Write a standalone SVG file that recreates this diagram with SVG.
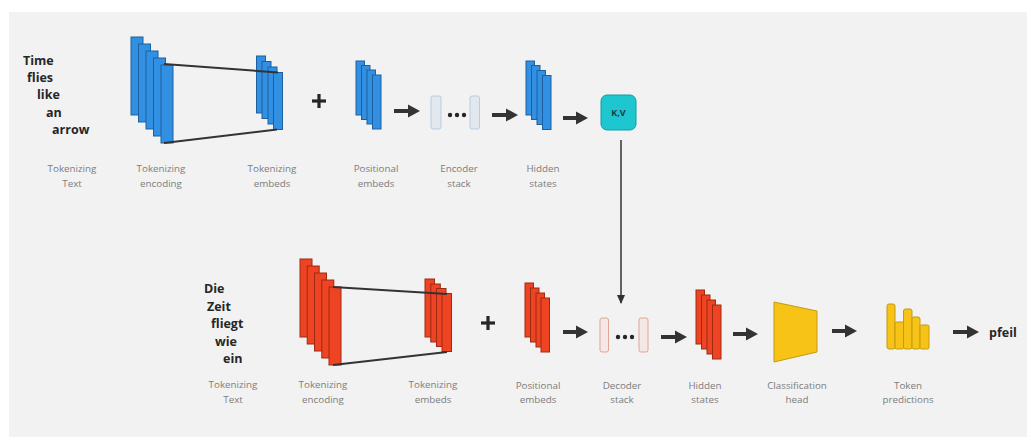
<svg xmlns="http://www.w3.org/2000/svg" width="1027" height="437" viewBox="0 0 1027 437">
  <defs>
    <style>
      .word { font-family: "Open Sans", "DejaVu Sans", sans-serif; font-weight: 700; font-size: 12.5px; fill: #262626; }
      .lbl { font-family: "Open Sans", "DejaVu Sans", sans-serif; font-size: 9.8px; fill: #7c7c7c; text-anchor: middle; }
      .blue { fill: #3290e3; stroke: #1f5f9e; stroke-width: 1; }
      .red { fill: #ef4423; stroke: #9e2a12; stroke-width: 1; }
      .enc { fill: #e3e8ee; stroke: #b9cde0; stroke-width: 1; }
      .dec { fill: #f4e8e6; stroke: #e0a595; stroke-width: 1; }
      .gold { fill: #f6c316; stroke: #c49a12; stroke-width: 1; }
      .dot { fill: #262626; }
      .flow { stroke: #333; stroke-width: 4; fill: none; marker-end: url(#head); }
      .funnel { stroke: #333; stroke-width: 2; fill: none; }
      .thin { stroke: #333; stroke-width: 1.5; fill: none; marker-end: url(#small); }
      .plus { stroke: #262626; stroke-width: 3.2; }
    </style>
    <marker id="head" markerUnits="userSpaceOnUse" markerWidth="13" markerHeight="14" refX="4" refY="7" orient="auto">
      <path d="M0,0.5 L12,7 L0,13.5 z" fill="#333"/>
    </marker>
    <marker id="small" markerUnits="userSpaceOnUse" markerWidth="10" markerHeight="10" refX="8" refY="5" orient="auto">
      <path d="M0,1 L9,5 L0,9 z" fill="#333"/>
    </marker>
  </defs>

  <!-- backdrop -->
  <rect x="0" y="0" width="1027" height="437" fill="#ffffff"/>
  <rect x="9" y="12" width="1018" height="425" fill="#f2f2f2"/>

  <!-- ===== encoder row ===== -->
  <g id="src-text">
    <text class="word" x="23" y="65">Time</text>
    <text class="word" x="27" y="82">flies</text>
    <text class="word" x="37" y="99">like</text>
    <text class="word" x="46" y="117">an</text>
    <text class="word" x="52" y="134">arrow</text>
    <text class="lbl" x="72" y="172">Tokenizing</text>
    <text class="lbl" x="72" y="187">Text</text>
  </g>

  <g id="src-encoding">
    <rect class="blue" x="131" y="37" width="12" height="78"/>
    <rect class="blue" x="138.5" y="44" width="12" height="78"/>
    <rect class="blue" x="146" y="51" width="12" height="78"/>
    <rect class="blue" x="153.5" y="58" width="12" height="78"/>
    <rect class="blue" x="161" y="65" width="12" height="78"/>
    <text class="lbl" x="161" y="172">Tokenizing</text>
    <text class="lbl" x="161" y="187">encoding</text>
  </g>

  <g id="src-embeds">
    <rect class="blue" x="256.5" y="56" width="9" height="57"/>
    <rect class="blue" x="262" y="61.5" width="9" height="57"/>
    <rect class="blue" x="268" y="67" width="9" height="57"/>
    <rect class="blue" x="273.5" y="72.5" width="9" height="57"/>
    <text class="lbl" x="272" y="172">Tokenizing</text>
    <text class="lbl" x="272" y="187">embeds</text>
  </g>

  <g id="src-plus">
    <line class="plus" x1="312" y1="101" x2="326" y2="101"/>
    <line class="plus" x1="319" y1="94" x2="319" y2="108"/>
  </g>

  <g id="src-positional">
    <rect class="blue" x="356" y="61" width="8.5" height="54"/>
    <rect class="blue" x="361.5" y="65.5" width="8.5" height="54"/>
    <rect class="blue" x="367" y="70" width="8.5" height="54"/>
    <rect class="blue" x="372.5" y="75" width="8.5" height="54"/>
    <text class="lbl" x="376" y="172">Positional</text>
    <text class="lbl" x="376" y="187">embeds</text>
  </g>

  <g id="encoder-stack">
    <rect class="enc" x="431" y="96" width="10" height="33" rx="2"/>
    <rect class="enc" x="470" y="96" width="9.5" height="33" rx="2"/>
    <circle class="dot" cx="450" cy="115" r="2.2"/>
    <circle class="dot" cx="457" cy="115" r="2.2"/>
    <circle class="dot" cx="464" cy="115" r="2.2"/>
    <text class="lbl" x="459" y="172">Encoder</text>
    <text class="lbl" x="459" y="187">stack</text>
  </g>

  <g id="enc-hidden">
    <rect class="blue" x="526" y="61" width="8.5" height="54"/>
    <rect class="blue" x="531.5" y="65.5" width="8.5" height="54"/>
    <rect class="blue" x="537" y="70.5" width="8.5" height="54"/>
    <rect class="blue" x="542.5" y="75.5" width="8.5" height="54"/>
    <text class="lbl" x="543" y="172">Hidden</text>
    <text class="lbl" x="543" y="187">states</text>
  </g>

  <g id="kv">
    <rect x="601" y="95" width="35" height="35" rx="6" fill="#1ec6cf" stroke="#159aa2" stroke-width="1"/>
    <text x="618.5" y="116" text-anchor="middle" font-family="'Open Sans', 'DejaVu Sans', sans-serif" font-weight="700" font-size="9" fill="#1d3b46">K,V</text>
  </g>

  <!-- ===== decoder row ===== -->
  <g id="tgt-text">
    <text class="word" x="204" y="293">Die</text>
    <text class="word" x="207" y="311">Zeit</text>
    <text class="word" x="211" y="328">fliegt</text>
    <text class="word" x="215" y="346">wie</text>
    <text class="word" x="223" y="363">ein</text>
    <text class="lbl" x="233" y="388">Tokenizing</text>
    <text class="lbl" x="233" y="403">Text</text>
  </g>

  <g id="tgt-encoding">
    <rect class="red" x="300" y="259" width="12" height="78"/>
    <rect class="red" x="307.2" y="266" width="12" height="78"/>
    <rect class="red" x="314.5" y="273" width="12" height="78"/>
    <rect class="red" x="321.8" y="280" width="12" height="78"/>
    <rect class="red" x="329" y="287" width="12" height="78"/>
    <text class="lbl" x="323" y="388">Tokenizing</text>
    <text class="lbl" x="323" y="403">encoding</text>
  </g>

  <g id="tgt-embeds">
    <rect class="red" x="425" y="279" width="9.5" height="58"/>
    <rect class="red" x="430.8" y="284" width="9.5" height="58"/>
    <rect class="red" x="436.5" y="288.5" width="9.5" height="58"/>
    <rect class="red" x="442" y="293.5" width="9.5" height="58"/>
    <text class="lbl" x="433" y="388">Tokenizing</text>
    <text class="lbl" x="433" y="403">embeds</text>
  </g>

  <g id="tgt-plus">
    <line class="plus" x1="481" y1="323" x2="495" y2="323"/>
    <line class="plus" x1="488" y1="316" x2="488" y2="330"/>
  </g>

  <g id="tgt-positional">
    <rect class="red" x="525" y="283" width="8.5" height="54"/>
    <rect class="red" x="530.5" y="288" width="8.5" height="54"/>
    <rect class="red" x="536" y="293" width="8.5" height="54"/>
    <rect class="red" x="541" y="298" width="8.5" height="54"/>
    <text class="lbl" x="538" y="389">Positional</text>
    <text class="lbl" x="538" y="403">embeds</text>
  </g>

  <g id="decoder-stack">
    <rect class="dec" x="600" y="318" width="8.5" height="34" rx="2"/>
    <rect class="dec" x="639" y="318" width="9" height="34" rx="2"/>
    <circle class="dot" cx="618" cy="337" r="2.2"/>
    <circle class="dot" cx="625" cy="337" r="2.2"/>
    <circle class="dot" cx="632" cy="337" r="2.2"/>
    <text class="lbl" x="622" y="389">Decoder</text>
    <text class="lbl" x="622" y="403">stack</text>
  </g>

  <g id="dec-hidden">
    <rect class="red" x="696" y="290" width="8.5" height="54"/>
    <rect class="red" x="701.5" y="295" width="8.5" height="54"/>
    <rect class="red" x="707" y="300" width="8.5" height="54"/>
    <rect class="red" x="712.5" y="305" width="8.5" height="54"/>
    <text class="lbl" x="705" y="389">Hidden</text>
    <text class="lbl" x="705" y="403">states</text>
  </g>

  <g id="cls-head">
    <polygon class="gold" points="774,302 817,311 817,352 774,362"/>
    <text class="lbl" x="797" y="389">Classification</text>
    <text class="lbl" x="797" y="403">head</text>
  </g>

  <g id="token-preds">
    <rect class="gold" x="887" y="304" width="8" height="45" rx="2"/>
    <rect class="gold" x="895" y="322" width="8.5" height="27" rx="1.5"/>
    <rect class="gold" x="903.5" y="309" width="8.5" height="40" rx="2"/>
    <rect class="gold" x="912" y="317" width="8" height="32" rx="2"/>
    <rect class="gold" x="920" y="325" width="9" height="24" rx="1.5"/>
    <text class="lbl" x="908" y="389">Token</text>
    <text class="lbl" x="908" y="403">predictions</text>
  </g>

  <g id="output">
    <text class="word" x="989" y="337">pfeil</text>
  </g>

  <!-- ===== connectors ===== -->
  <g id="connectors">
    <!-- projection funnels -->
    <line class="funnel" x1="164" y1="64" x2="278" y2="72.5"/>
    <line class="funnel" x1="164" y1="143" x2="277" y2="129.5"/>
    <line class="funnel" x1="333" y1="287" x2="447" y2="294"/>
    <line class="funnel" x1="333" y1="365" x2="447" y2="352"/>
    <!-- encoder flow -->
    <line class="flow" x1="394" y1="111" x2="412" y2="111"/>
    <line class="flow" x1="492" y1="115" x2="510" y2="115"/>
    <line class="flow" x1="563" y1="118" x2="580" y2="118"/>
    <!-- cross attention -->
    <line class="thin" x1="621" y1="140" x2="621" y2="303"/>
    <!-- decoder flow -->
    <line class="flow" x1="563" y1="332" x2="580" y2="332"/>
    <line class="flow" x1="661" y1="337" x2="679" y2="337"/>
    <line class="flow" x1="733" y1="334" x2="750" y2="334"/>
    <line class="flow" x1="832" y1="331" x2="849" y2="331"/>
    <line class="flow" x1="953" y1="332" x2="971" y2="332"/>
  </g>
</svg>
